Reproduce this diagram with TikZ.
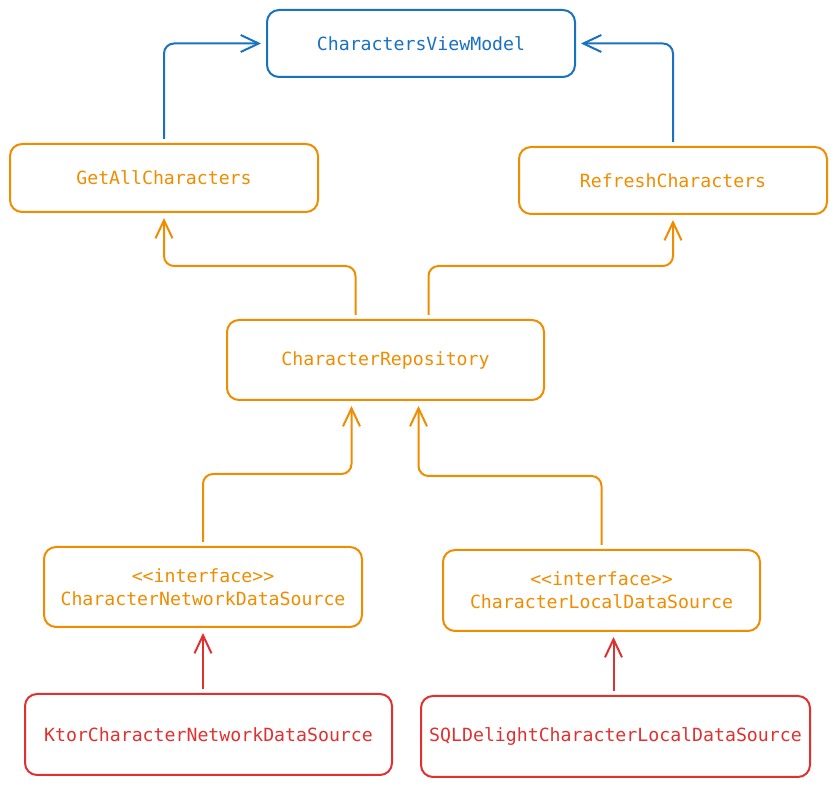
\documentclass[tikz,border=0pt]{standalone}
\usepackage{fontspec}
\setmonofont{DejaVu Sans Mono}
\usetikzlibrary{arrows.meta}
\definecolor{vmblue}{HTML}{1971C2}
\definecolor{uorange}{HTML}{F08C00}
\definecolor{dsred}{HTML}{E03131}
\tikzset{>={Straight Barb[length=18pt,width=17pt]}}
\tikzset{
  box/.style={draw, rounded corners=12pt, line width=2pt, inner sep=0pt,
    align=center, font=\ttfamily\fontsize{18.2}{23}\selectfont},
  link/.style={->, line width=2pt, rounded corners=10pt, shorten <=4pt, shorten >=5pt}
}

\begin{document}
\begin{tikzpicture}[x=1pt, y=1pt]
\useasboundingbox (0,0) rectangle (836,787);
% boxes
\node[box, vmblue, minimum width=308, minimum height=67] (vm) at (421,743.5) {CharactersViewModel};
\node[box, uorange, minimum width=308, minimum height=68] (getall) at (164,609) {GetAllCharacters};
\node[box, uorange, minimum width=308, minimum height=67] (refresh) at (673,606.5) {RefreshCharacters};
\node[box, uorange, minimum width=317, minimum height=80] (repo) at (385.5,427) {CharacterRepository};
\node[box, uorange, minimum width=318, minimum height=80] (netds) at (203,200) {<<interface>>\\CharacterNetworkDataSource};
\node[box, uorange, minimum width=317, minimum height=81] (localds) at (601.5,196.5) {<<interface>>\\CharacterLocalDataSource};
\node[box, dsred, minimum width=367, minimum height=81] (ktor) at (208.5,52.5) {KtorCharacterNetworkDataSource};
\node[box, dsred, minimum width=389, minimum height=81] (sql) at (615.5,50.5) {SQLDelightCharacterLocalDataSource};
% use cases -> view model
\draw[link, vmblue] (getall.north) |- (vm.west);
\draw[link, vmblue] (refresh.north) |- (vm.east);
% repository -> use cases
\draw[link, uorange] ([xshift=-30pt]repo.north) -- ++(0,53) -| (getall.south);
\draw[link, uorange] ([xshift=43pt]repo.north) -- ++(0,53) -| (refresh.south);
% data sources -> repository
\draw[link, uorange] (netds.north) -- ++(0,72) -| ([xshift=-34pt]repo.south);
\draw[link, uorange] (localds.north) -- ++(0,73) -| ([xshift=33pt]repo.south);
% implementations -> interfaces
\draw[link, dsred] (netds.south |- ktor.north) -- (netds.south);
\draw[link, dsred] ([xshift=-2pt]sql.north) -- ([xshift=-2pt]sql.north |- localds.south);
\end{tikzpicture}
\end{document}
